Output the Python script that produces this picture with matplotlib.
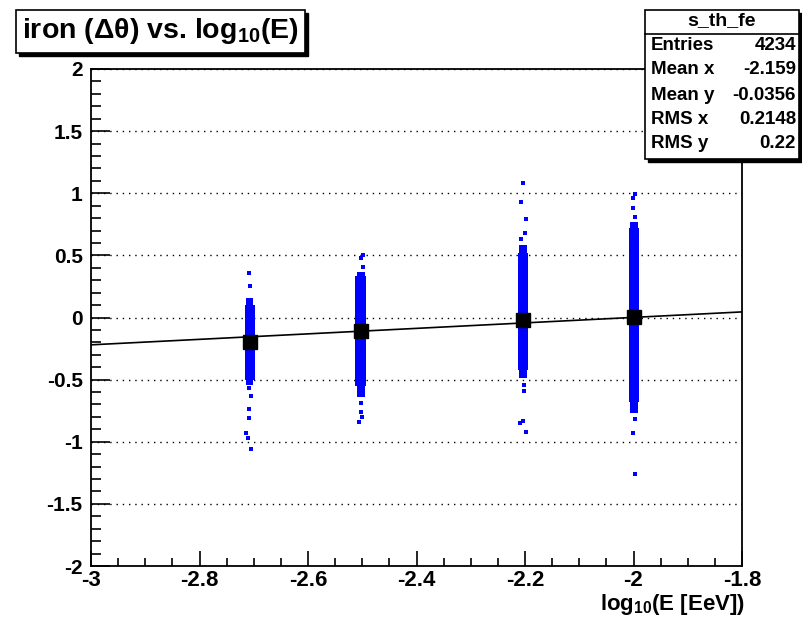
import numpy as np
import matplotlib
matplotlib.use('agg')
import matplotlib.pyplot as plt
from matplotlib.patches import Rectangle
from matplotlib.ticker import MultipleLocator

plt.rcParams['font.family'] = ['Liberation Sans', 'DejaVu Sans']
plt.rcParams['font.weight'] = 'bold'
plt.rcParams['mathtext.fontset'] = 'custom'
plt.rcParams['mathtext.rm'] = 'Liberation Sans:bold'
plt.rcParams['mathtext.it'] = 'Liberation Sans:bold'
plt.rcParams['mathtext.bf'] = 'Liberation Sans:bold'

# energy bins (log10 E) and dense part of each Delta-theta cloud
bin_x = [-2.707, -2.503, -2.204, -1.999]
core_lo = [-0.54, -0.64, -0.49, -0.77]
core_hi = [0.157, 0.37, 0.58, 0.77]
wide_lo = [-0.50, -0.55, -0.42, -0.68]
wide_hi = [0.10, 0.33, 0.52, 0.72]

# sparse points outside the dense clouds
out_x = [-2.7088, -2.7069, -2.7088, -2.7051, -2.7088, -2.7088, -2.7143, -2.7106, -2.7051,
         -2.4977, -2.5014, -2.4977, -2.5032, -2.5014, -2.4996, -2.5051,
         -2.2037, -2.2074, -2.1982, -2.2000, -2.2074, -2.2018, -2.2018, -2.2037, -2.2092, -2.1982,
         -1.9972, -2.0009, -2.0009, -1.9972, -1.9972, -2.0009, -1.9972]
out_y = [0.358, 0.25, -0.57, -0.63, -0.74, -0.81, -0.93, -0.97, -1.06,
         0.503, 0.48, 0.41, -0.69, -0.76, -0.80, -0.84,
         1.08, 0.93, 0.79, 0.68, 0.63, -0.54, -0.59, -0.83, -0.85, -0.92,
         0.99, 0.96, 0.88, 0.81, -0.82, -0.93, -1.26]

# profile means
prof_x = [-2.707, -2.503, -2.204, -1.999]
prof_y = [-0.2, -0.105, -0.02, 0.005]

# linear fit end points
fit_x = [-3.0, -1.8]
fit_y = [-0.22, 0.045]

stats_names = ['Entries', 'Mean x', 'Mean y', 'RMS x', 'RMS y']
stats_vals = ['4234', '-2.159', '-0.0356', '0.2148', '0.22']

W, H = 802, 619
fig = plt.figure(figsize=(W / 100, H / 100), dpi=100)
fig.patch.set_facecolor('white')
ax = fig.add_axes([91 / W, 1 - 566 / H, (742 - 91) / W, (566 - 69) / H])

blue = '#0000ff'
core_w = [0.013, 0.015, 0.014, 0.014]
full_w = [0.019, 0.021, 0.019, 0.019]
for i in range(len(bin_x)):
    ax.bar(bin_x[i], core_hi[i] - core_lo[i], bottom=core_lo[i], width=core_w[i],
           color=blue, linewidth=0, zorder=2)
    ax.bar(bin_x[i], wide_hi[i] - wide_lo[i], bottom=wide_lo[i], width=full_w[i],
           color=blue, linewidth=0, zorder=2)
ax.plot(out_x, out_y, 's', color=blue, markersize=2.8, markeredgewidth=0, zorder=2)

ax.plot(fit_x, fit_y, color='black', linewidth=1.2, zorder=3)
ax.plot(prof_x, prof_y, 's', color='black', markersize=10.5, zorder=4)

ax.set_xlim(-3, -1.8)
ax.set_ylim(-2, 2)
ax.xaxis.set_minor_locator(MultipleLocator(0.05))
ax.yaxis.set_minor_locator(MultipleLocator(0.1))
ax.set_xticks([-3, -2.8, -2.6, -2.4, -2.2, -2, -1.8])
ax.set_xticklabels(['-3', '-2.8', '-2.6', '-2.4', '-2.2', '-2', '-1.8'])
ax.set_yticks([-2, -1.5, -1, -0.5, 0, 0.5, 1, 1.5, 2])
ax.set_yticklabels(['-2', '-1.5', '-1', '-0.5', '0', '0.5', '1', '1.5', '2'])
ax.tick_params(axis='x', which='major', direction='in', length=11, width=1.2,
               labelsize=16, pad=3, top=False)
ax.tick_params(axis='x', which='minor', direction='in', length=6, width=1.2, top=False)
ax.tick_params(axis='y', which='major', direction='in', length=14, width=1.2,
               labelsize=15, pad=6, right=False)
ax.tick_params(axis='y', which='minor', direction='in', length=7.5, width=1.2, right=False)
for lab in ax.get_xticklabels() + ax.get_yticklabels():
    lab.set_fontweight('bold')
for s in ax.spines.values():
    s.set_linewidth(1.3)

ax.yaxis.grid(True, which='major', color='black', linestyle=(0, (1, 3.5)), linewidth=1.0)
ax.set_axisbelow(True)

# x axis title
fig.text(745 / W, 1 - 610 / H, r'log$_{10}$(E [EeV])', ha='right', va='baseline',
         fontsize=16, fontweight='bold')


def fig_box(x0, y0, x1, y1, shadow=3):
    # ROOT style pave with a dark shadow to the lower right
    fig.patches.append(Rectangle((x0 / W + shadow / W, 1 - (y1 + shadow) / H),
                                 (x1 - x0) / W, (y1 - y0) / H,
                                 transform=fig.transFigure, facecolor='black',
                                 edgecolor='black', zorder=5))
    fig.patches.append(Rectangle((x0 / W, 1 - y1 / H), (x1 - x0) / W, (y1 - y0) / H,
                                 transform=fig.transFigure, facecolor='white',
                                 edgecolor='black', linewidth=1.2, zorder=6))


# title pave
fig_box(16, 10, 305, 53)
fig.text(160 / W, 1 - 31 / H, r'iron (Δθ) vs. log$_{10}$(E)', ha='center', va='center',
         fontsize=20.5, fontweight='bold', zorder=7)

# stats pave
fig_box(645, 10, 799, 159)
fig.add_artist(plt.Line2D([645 / W, 799 / W], [1 - 34 / H, 1 - 34 / H],
                          transform=fig.transFigure, color='black', linewidth=1.2,
                          zorder=7))
fig.text(722 / W, 1 - 21 / H, 's_th_fe', ha='center', va='center',
         fontsize=14, fontweight='bold', zorder=7)
row_y = [46, 70, 95, 120, 144]
for name, val, ry in zip(stats_names, stats_vals, row_y):
    fig.text(651 / W, 1 - ry / H, name, ha='left', va='center',
             fontsize=13.5, fontweight='bold', zorder=7)
    fig.text(796 / W, 1 - ry / H, val, ha='right', va='center',
             fontsize=13.5, fontweight='bold', zorder=7)

fig.savefig('out.png', dpi=100, facecolor='white')
